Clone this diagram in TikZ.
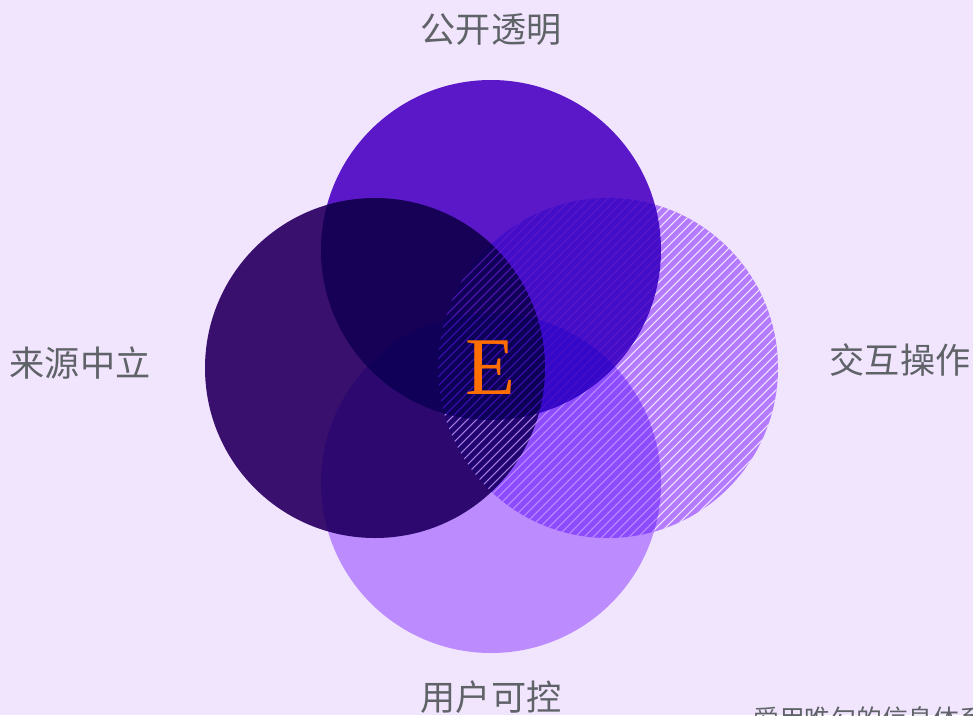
\documentclass[tikz,border=0pt]{standalone}
\usepackage{fontspec}
\setmainfont{Liberation Serif}
\newfontfamily\cjk{Noto Sans CJK SC}
\usepackage{xcolor}
\usepackage{tikz}
\usetikzlibrary{positioning}

\definecolor{bgpurple}{RGB}{241,229,254}
\definecolor{topfill}{RGB}{97,27,201}
\definecolor{leftfill}{RGB}{62,18,112}
\definecolor{rightfill}{RGB}{192,138,255}
\definecolor{bottomfill}{RGB}{199,157,255}
\definecolor{labelgray}{RGB}{95,99,104}
\definecolor{eorange}{RGB}{255,110,0}

\begin{document}
\begin{tikzpicture}[x=0.03cm,y=-0.03cm,
    circ/.style={fill=#1, blend mode=multiply},
    hatch/.style={white, opacity=0.8, line width=0.9pt},
    lbl/.style={font=\cjk\fontsize{30}{30}\selectfont, text=labelgray}]
    \useasboundingbox (0,0) rectangle (973,715);
    \fill[bgpurple] (0,0) rectangle (973,715);

    % circle centres
    \coordinate (ctop) at (491,250);
    \coordinate (cleft) at (375,368);
    \coordinate (cright) at (608,368);
    \coordinate (cbottom) at (491,483);

    % left and right circles
    \fill[circ=leftfill] (cleft) circle (170);
    \fill[circ=rightfill] (cright) circle (170);

    % hatching on the right circle
    \begin{scope}
        \clip (cright) circle (170);
        \foreach \a in {90,99,...,790} {
            \draw[hatch] (\a,545) -- ++(360,-360);
        }
    \end{scope}

    % bottom and top circles
    \fill[circ=bottomfill] (cbottom) circle (170);
    \fill[circ=topfill] (ctop) circle (170);

    % centre letter
    \node[text=eorange, font=\fontsize{70}{70}\selectfont] (mark) at (491,368) {E};

    % labels
    \node[lbl] (open) at (491,30) {公开透明};
    \node[lbl] (neutral) at (80,363) {来源中立};
    \node[lbl] (interact) at (900,360) {交互操作};
    \node[lbl] (control) at (491,697) {用户可控};
    \node[lbl, font=\cjk\fontsize{22}{22}\selectfont, anchor=north west, inner sep=0pt] (footer) at (753,706) {爱用唯勾的信息体系};
\end{tikzpicture}
\end{document}
